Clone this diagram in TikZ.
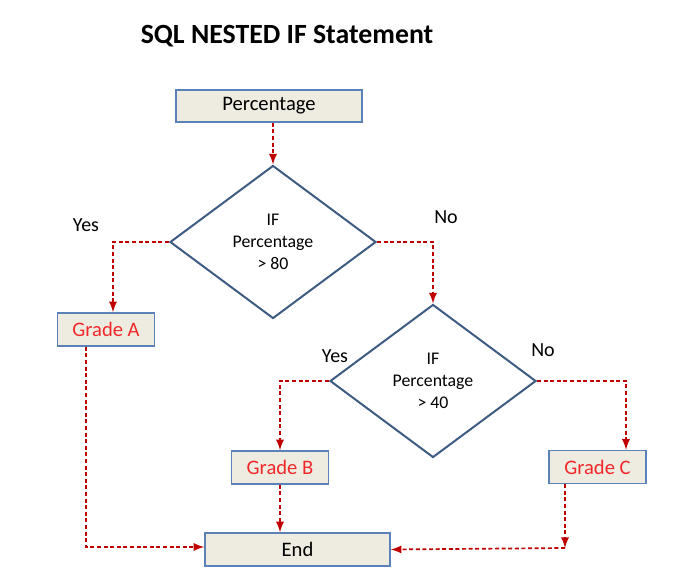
\documentclass[tikz,border=0pt]{standalone}
\usepackage{fontspec}
\setmainfont{Carlito}
\usetikzlibrary{arrows,shapes.geometric}
\definecolor{boxfill}{HTML}{EEECE1}
\definecolor{boxline}{HTML}{5B82B8}
\definecolor{dialine}{HTML}{3E5C82}
\definecolor{flowred}{HTML}{C00000}
\definecolor{gradered}{HTML}{F0282A}
\tikzstyle{box}=[rectangle, draw=boxline, fill=boxfill, line width=0.75pt, inner sep=1pt, font=\fontsize{10.3}{12}\selectfont]
\tikzstyle{grade}=[box, minimum width=48.5pt, minimum height=16.5pt, text=gradered]
\tikzstyle{decision}=[diamond, draw=dialine, line width=1pt, inner sep=0pt, minimum width=103pt, minimum height=76.5pt, align=center, font=\fontsize{8.9}{11}\selectfont]
\tikzstyle{answer}=[font=\fontsize{10}{12}\selectfont]
\tikzstyle{flow}=[draw=flowred, line width=0.85pt, dash pattern=on 2pt off 1.3pt, -latex]
\newcommand{\grade}{\node[grade]}
\newcommand{\answer}{\node[answer]}

\begin{document}
\begin{tikzpicture}[x=0.5pt, y=-0.5pt]
\useasboundingbox (0,0) rectangle (684,583);
\node[font=\fontsize{13.9}{16}\selectfont\bfseries] (title) at (287,36) {SQL NESTED IF Statement};
\node[box, minimum width=93pt, minimum height=16pt] (perc) at (269,106) {Percentage};
\node[decision] (d1) at (273,242) {IF\\Percentage\\> 80};
\node[decision] (d2) at (433,381) {IF\\Percentage\\> 40};
\answer (yes1) at (86,225) {Yes};
\answer (no1) at (446,217) {No};
\answer (yes2) at (335,356) {Yes};
\answer (no2) at (543,350) {No};
\grade (gradeA) at (106,329.5) {Grade A};
\grade (gradeB) at (280,467.5) {Grade B};
\grade (gradeC) at (597.5,467) {Grade C};
\node[box, minimum width=92.5pt, minimum height=16.5pt] (end) at (297.5,549.5) {End};
\coordinate (cEnd) at (565,548);

\path[flow]
(perc.south -| d1.north) -- (d1.north);
\path[flow]
(d1.west) -| ([xshift=3.5pt]gradeA.north);
\path[flow]
(d1.east) -| (d2.north);
\path[flow]
(d2.west) -| (gradeB.north);
\path[flow]
(d2.east) -| ([xshift=14.25pt]gradeC.north);
\path[flow]
([xshift=-10pt]gradeA.south) |- ([yshift=1.25pt]end.west);
\path[flow]
(gradeB.south) -- (gradeB.south |- end.north);
\path[flow]
([xshift=-16.25pt]gradeC.south) -- (cEnd);
\path[flow]
(cEnd) -- (end.east);
\end{tikzpicture}
\end{document}
